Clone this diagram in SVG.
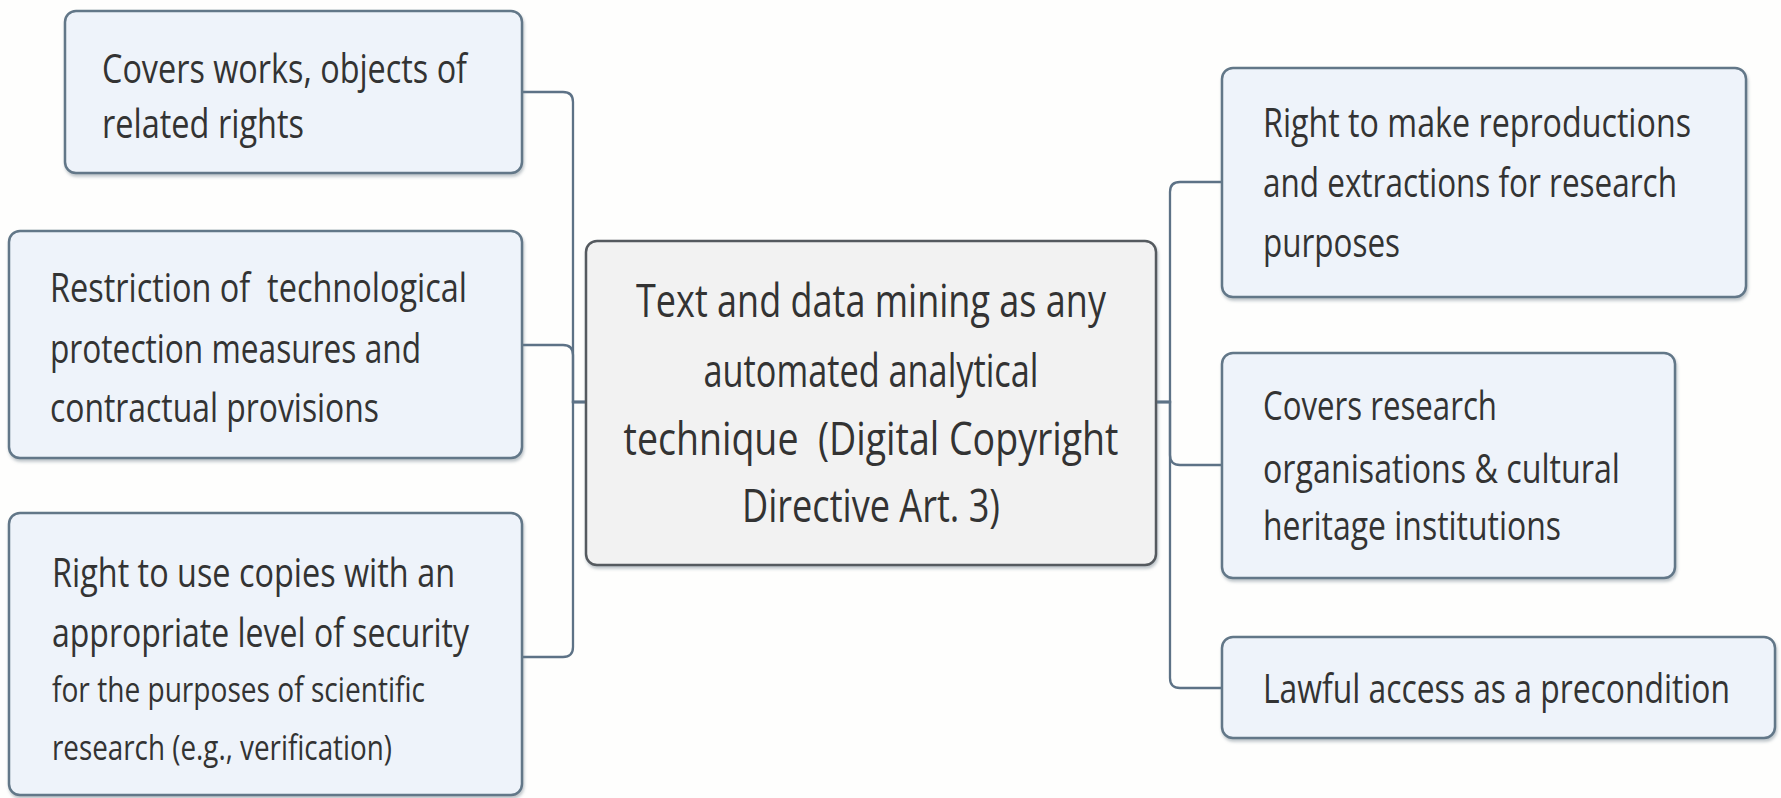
<svg xmlns="http://www.w3.org/2000/svg" width="1781" height="798" viewBox="0 0 1781 798">
  <style>
    .box { fill: #eef3fa; stroke: #627788; stroke-width: 2.5; }
    .core { fill: #f2f2f2; stroke: #555a5f; stroke-width: 2.5; }
    .txt { font-family: "Open Sans", "Noto Sans", sans-serif; font-size: 40px; fill: #333333; }
    .sm { font-size: 35px; }
    .big { font-size: 46px; text-anchor: middle; }
    .pre { white-space: pre; }
    .wire { fill: none; stroke: #5d7286; stroke-width: 2.3; }
  </style>
  <defs>
    <filter id="shade" x="-5%" y="-5%" width="110%" height="115%">
      <feDropShadow dx="1" dy="2.5" stdDeviation="1.5" flood-color="#6b7a88" flood-opacity="0.45"/>
    </filter>
  </defs>

  <rect width="1781" height="798" fill="#fefefd"/>

  <!-- connectors from the central topic to each branch -->
  <g id="connectors">
    <path class="wire" d="M586,402 H573 V102 Q573,92 563,92 H522"/>
    <path class="wire" d="M586,402 H573 V355 Q573,345 563,345 H522"/>
    <path class="wire" d="M586,402 H573 V647 Q573,657 563,657 H522"/>
    <path class="wire" d="M1156,402 H1170 V192 Q1170,182 1180,182 H1222"/>
    <path class="wire" d="M1156,402 H1170 V455 Q1170,465 1180,465 H1222"/>
    <path class="wire" d="M1156,402 H1170 V678 Q1170,688 1180,688 H1222"/>
  </g>

  <!-- labels are set in a horizontally narrowed face (scale 0.8) -->
  <g id="central">
    <rect class="core" x="586" y="241" width="570" height="324" rx="11" filter="url(#shade)"/>
    <g transform="translate(871 0) scale(0.8 1)">
      <text class="txt big" x="0" y="317" textLength="587.5" lengthAdjust="spacingAndGlyphs">Text and data mining as any</text>
      <text class="txt big" x="0" y="387" textLength="418.75" lengthAdjust="spacingAndGlyphs">automated analytical</text>
      <text class="txt big pre" x="0" y="455" textLength="618.75" lengthAdjust="spacingAndGlyphs">technique  (Digital Copyright</text>
      <text class="txt big" x="0" y="522" textLength="322.5" lengthAdjust="spacingAndGlyphs">Directive Art. 3)</text>
    </g>
  </g>

  <g id="works">
    <rect class="box" x="65" y="11" width="457" height="162" rx="11" filter="url(#shade)"/>
    <g transform="translate(102 0) scale(0.8 1)">
      <text class="txt" x="0" y="83" textLength="456.25" lengthAdjust="spacingAndGlyphs">Covers works, objects of</text>
      <text class="txt" x="0" y="138" textLength="252.5" lengthAdjust="spacingAndGlyphs">related rights</text>
    </g>
  </g>

  <g id="restriction">
    <rect class="box" x="9" y="231" width="513" height="227" rx="11" filter="url(#shade)"/>
    <g transform="translate(50 0) scale(0.8 1)">
      <text class="txt pre" x="0" y="302" textLength="521.25" lengthAdjust="spacingAndGlyphs">Restriction of  technological</text>
      <text class="txt" x="0" y="363" textLength="463.75" lengthAdjust="spacingAndGlyphs">protection measures and</text>
      <text class="txt" x="0" y="422" textLength="411.25" lengthAdjust="spacingAndGlyphs">contractual provisions</text>
    </g>
  </g>

  <g id="copies">
    <rect class="box" x="9" y="513" width="513" height="282" rx="11" filter="url(#shade)"/>
    <g transform="translate(52 0) scale(0.8 1)">
      <text class="txt" x="0" y="587" textLength="503.75" lengthAdjust="spacingAndGlyphs">Right to use copies with an</text>
      <text class="txt" x="0" y="647" textLength="521.25" lengthAdjust="spacingAndGlyphs">appropriate level of security</text>
      <text class="txt sm" x="0" y="702" textLength="466.25" lengthAdjust="spacingAndGlyphs">for the purposes of scientific</text>
      <text class="txt sm" x="0" y="760" textLength="425" lengthAdjust="spacingAndGlyphs">research (e.g., verification)</text>
    </g>
  </g>

  <g id="reproductions">
    <rect class="box" x="1222" y="68" width="524" height="229" rx="11" filter="url(#shade)"/>
    <g transform="translate(1263 0) scale(0.8 1)">
      <text class="txt" x="0" y="137" textLength="535" lengthAdjust="spacingAndGlyphs">Right to make reproductions</text>
      <text class="txt" x="0" y="197" textLength="517.5" lengthAdjust="spacingAndGlyphs">and extractions for research</text>
      <text class="txt" x="0" y="257" textLength="171.25" lengthAdjust="spacingAndGlyphs">purposes</text>
    </g>
  </g>

  <g id="organisations">
    <rect class="box" x="1222" y="353" width="453" height="225" rx="11" filter="url(#shade)"/>
    <g transform="translate(1263 0) scale(0.8 1)">
      <text class="txt" x="0" y="420" textLength="292.5" lengthAdjust="spacingAndGlyphs">Covers research</text>
      <text class="txt" x="0" y="483" textLength="446.25" lengthAdjust="spacingAndGlyphs">organisations &amp; cultural</text>
      <text class="txt" x="0" y="540" textLength="372.5" lengthAdjust="spacingAndGlyphs">heritage institutions</text>
    </g>
  </g>

  <g id="access">
    <rect class="box" x="1222" y="637" width="553" height="101" rx="11" filter="url(#shade)"/>
    <g transform="translate(1263 0) scale(0.8 1)">
      <text class="txt" x="0" y="703" textLength="583.75" lengthAdjust="spacingAndGlyphs">Lawful access as a precondition</text>
    </g>
  </g>
</svg>
